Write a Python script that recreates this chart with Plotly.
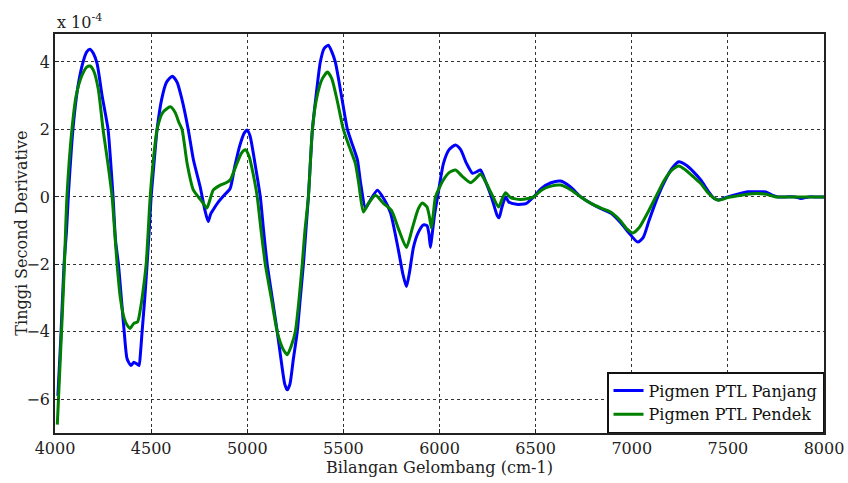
import plotly.graph_objects as go

# ---------------- data (values in units of 1e-4) ----------------
panjang_x = [4015, 4030, 4047, 4060, 4070, 4085, 4100, 4120, 4146, 4165, 4182, 4200, 4219, 4245, 4276,
             4290, 4302, 4315, 4330, 4345, 4360, 4375, 4395, 4410, 4425, 4437, 4445, 4453, 4467, 4479,
             4490, 4500, 4515, 4531, 4555, 4580, 4610, 4635, 4660, 4693, 4720, 4755, 4780, 4797, 4810,
             4823, 4850, 4880, 4911, 4935, 4960, 4985, 5000, 5015, 5040, 5068, 5085, 5104, 5130, 5156,
             5180, 5195, 5208, 5222, 5240, 5260, 5276, 5292, 5305, 5318, 5339, 5360, 5380, 5400, 5422,
             5440, 5458, 5490, 5521, 5550, 5573, 5590, 5615, 5640, 5677, 5710, 5745, 5786, 5810, 5828,
             5845, 5865, 5890, 5917, 5935, 5945, 5953, 5962, 5975, 5990, 6021, 6050, 6083, 6110, 6140,
             6172, 6195, 6213, 6240, 6270, 6300, 6310, 6325, 6344, 6360, 6400, 6450, 6490, 6530, 6580,
             6630, 6680, 6735, 6790, 6840, 6890, 6940, 6990, 7031, 7060, 7090, 7135, 7170, 7210, 7245,
             7280, 7320, 7359, 7400, 7430, 7453, 7500, 7550, 7604, 7650, 7698, 7730, 7760, 7800, 7850,
             7880, 7920, 7960, 8000]
panjang_y = [-5.9, -4.2, -2.0, -1.0, 0.1, 1.4, 2.4, 3.3, 4.0, 4.3, 4.38, 4.25, 3.95, 3.0, 2.0,
             1.0, 0.0, -1.3, -2.0, -3.0, -4.0, -4.8, -5.0, -4.9, -4.95, -5.0, -4.6, -4.0, -3.0, -2.0,
             -1.0, 0.0, 1.0, 2.0, 2.9, 3.4, 3.58, 3.4, 2.9, 2.0, 1.1, 0.3, -0.4, -0.73, -0.5,
             -0.38, -0.15, 0.05, 0.25, 0.9, 1.5, 1.9, 1.98, 1.8, 1.0, 0.0, -1.0, -2.0, -3.0, -4.0,
             -5.0, -5.55, -5.72, -5.55, -4.8, -4.0, -3.0, -2.0, -1.0, 0.0, 2.0, 3.1, 4.0, 4.4, 4.5,
             4.3, 4.0, 3.0, 2.0, 1.5, 1.1, 0.4, -0.33, -0.1, 0.2, -0.05, -0.47, -1.57, -2.3, -2.66,
             -2.2, -1.48, -1.05, -0.83, -0.85, -1.1, -1.5, -1.1, -0.5, 0.0, 1.0, 1.4, 1.54, 1.4, 1.0,
             0.7, 0.75, 0.8, 0.45, 0.0, -0.55, -0.62, -0.3, 0.0, -0.15, -0.22, -0.2, 0.0, 0.25, 0.42,
             0.47, 0.3, 0.0, -0.2, -0.35, -0.48, -0.75, -1.1, -1.34, -1.2, -0.7, 0.0, 0.45, 0.85, 1.04,
             0.95, 0.75, 0.5, 0.15, -0.05, -0.09, 0.0, 0.08, 0.15, 0.15, 0.15, 0.05, 0.0, 0.0, 0.0,
             -0.05, 0.0, 0.0, 0.0]

pendek_x = [4012, 4030, 4047, 4062, 4088, 4110, 4140, 4165, 4182, 4200, 4225, 4250, 4275, 4297, 4310,
            4323, 4340, 4360, 4375, 4390, 4410, 4430, 4445, 4460, 4474, 4485, 4495, 4510, 4531, 4560,
            4600, 4625, 4645, 4661, 4687, 4720, 4760, 4790, 4805, 4823, 4860, 4890, 4911, 4940, 4970,
            4990, 5010, 5030, 5052, 5072, 5094, 5125, 5156, 5185, 5208, 5230, 5250, 5270, 5286, 5300,
            5318, 5339, 5360, 5390, 5417, 5440, 5470, 5500, 5530, 5562, 5580, 5604, 5630, 5667, 5710,
            5750, 5790, 5828, 5860, 5890, 5911, 5935, 5948, 5958, 5968, 5979, 6020, 6050, 6083, 6120,
            6161, 6190, 6213, 6240, 6270, 6307, 6330, 6344, 6370, 6420, 6460, 6490, 6530, 6580, 6630,
            6680, 6735, 6790, 6840, 6890, 6940, 6975, 7005, 7040, 7080, 7125, 7170, 7210, 7245, 7280,
            7320, 7359, 7400, 7430, 7453, 7500, 7550, 7600, 7650, 7700, 7750, 7800, 7900, 8000]
pendek_y = [-6.75, -4.5, -2.3, 0.0, 2.0, 3.0, 3.6, 3.85, 3.88, 3.75, 3.2, 2.0, 1.0, 0.0, -1.0,
            -2.0, -3.0, -3.6, -3.8, -3.9, -3.75, -3.7, -3.3, -2.7, -2.0, -1.0, 0.0, 1.0, 2.0, 2.5,
            2.67, 2.5, 2.2, 2.0, 1.0, 0.2, -0.1, -0.33, -0.1, 0.2, 0.35, 0.42, 0.5, 0.9, 1.3,
            1.4, 1.2, 0.7, 0.0, -1.0, -2.0, -3.0, -4.0, -4.5, -4.68, -4.4, -4.0, -3.0, -2.0, -1.0,
            0.0, 2.0, 2.9, 3.5, 3.7, 3.5, 2.8, 2.0, 1.5, 1.0, 0.4, -0.45, -0.2, 0.05, -0.2,
            -0.4, -1.0, -1.5, -0.9, -0.35, -0.18, -0.3, -0.6, -0.92, -0.5, 0.0, 0.5, 0.72, 0.8, 0.6,
            0.42, 0.55, 0.68, 0.45, 0.1, -0.3, 0.0, 0.12, -0.02, -0.08, -0.05, 0.0, 0.2, 0.32, 0.35,
            0.22, 0.0, -0.2, -0.33, -0.45, -0.7, -0.95, -1.07, -0.9, -0.5, 0.0, 0.5, 0.8, 0.92, 0.8,
            0.6, 0.4, 0.1, -0.05, -0.1, -0.02, 0.03, 0.08, 0.1, 0.08, 0.0, 0.0, 0.0, 0.0]

x_ticks = [4000, 4500, 5000, 5500, 6000, 6500, 7000, 7500, 8000]
y_ticks = [-6, -4, -2, 0, 2, 4]

FONT = "DejaVu Serif"

fig = go.Figure()
fig.add_trace(go.Scatter(x=panjang_x, y=panjang_y, mode="lines", name="Pigmen PTL Panjang",
                         line=dict(color="#0000ff", width=3, shape="spline", smoothing=0.6)))
fig.add_trace(go.Scatter(x=pendek_x, y=pendek_y, mode="lines", name="Pigmen PTL Pendek",
                         line=dict(color="#008000", width=3, shape="spline", smoothing=0.6)))

axis_common = dict(showline=True, linecolor="#222", linewidth=1.5, mirror=True,
                   showgrid=True, gridcolor="#333", gridwidth=1, griddash="3px,3px",
                   zeroline=False, ticks="inside", ticklen=4, tickcolor="#222",
                   tickfont=dict(family=FONT, size=16, color="#222"))

fig.update_layout(
    width=848, height=483,
    paper_bgcolor="white", plot_bgcolor="white",
    margin=dict(l=55, r=24, t=34, b=50),
    font=dict(family=FONT, size=16, color="#222"),
    xaxis=dict(range=[4000, 8000], tickvals=x_ticks,
               title=dict(text="Bilangan Gelombang (cm-1)", standoff=4,
                          font=dict(family=FONT, size=16, color="#222")),
               automargin=False, **axis_common),
    yaxis=dict(range=[-7, 4.83], tickvals=y_ticks,
               automargin=False, **axis_common),
    legend=dict(x=1, y=0, xanchor="right", yanchor="bottom",
                bgcolor="white", bordercolor="#111", borderwidth=1.5,
                font=dict(family=FONT, size=16, color="#111"),
                tracegroupgap=0, itemwidth=30),
    annotations=[
        dict(text="x 10<sup>-4</sup>", xref="paper", yref="paper",
             x=0, y=1, xanchor="left", yanchor="bottom", showarrow=False,
             font=dict(family=FONT, size=16, color="#222")),
        dict(text="Tinggi Second Derivative", xref="paper", yref="paper",
             x=-0.044, y=0.5, xanchor="center", yanchor="middle", textangle=-90,
             showarrow=False, font=dict(family=FONT, size=16, color="#222")),
    ],
    showlegend=True,
)

fig.write_html("out.html", config={"displayModeBar": False},
               post_script="document.body.style.margin='0';document.body.style.overflow='hidden';")
